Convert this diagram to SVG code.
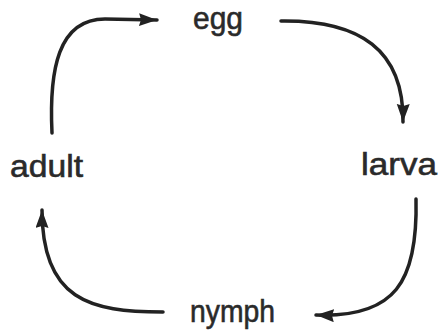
<svg xmlns="http://www.w3.org/2000/svg" width="439" height="334" viewBox="0 0 439 334">
  <style>
    .lbl { font-family: "Liberation Sans", Arial, sans-serif; font-size: 32px; fill: #2a2a2a; stroke: #2a2a2a; stroke-width: 0.6; }
    .arr { fill: none; stroke: #222; stroke-width: 3.5; stroke-linecap: round; marker-end: url(#head); }
  </style>
  <defs>
    <marker id="head" markerUnits="userSpaceOnUse" markerWidth="20" markerHeight="14" refX="18" refY="6.5" orient="auto">
      <path d="M0,0 L18,6.5 L0,13 L2,6.5 z" fill="#222"/>
    </marker>
  </defs>
  <rect width="439" height="334" fill="#ffffff"/>
  <g id="connectors">
    <path class="arr" d="M52,133 C49,70 58,19 105,19 L157,20"/>
    <path class="arr" d="M281,21 C360,20 404,50 403,122"/>
    <path class="arr" d="M416,199 C418,282 395,318 316,315"/>
    <path class="arr" d="M163,312 C90,312 42,300 42,210"/>
  </g>
  <g id="egg"><text class="lbl" x="193" y="29" textLength="50" lengthAdjust="spacingAndGlyphs">egg</text></g>
  <g id="larva"><text class="lbl" x="361" y="175" textLength="76" lengthAdjust="spacingAndGlyphs">larva</text></g>
  <g id="nymph"><text class="lbl" x="190" y="322" textLength="85" lengthAdjust="spacingAndGlyphs">nymph</text></g>
  <g id="adult"><text class="lbl" x="10" y="177" textLength="73" lengthAdjust="spacingAndGlyphs">adult</text></g>
</svg>
